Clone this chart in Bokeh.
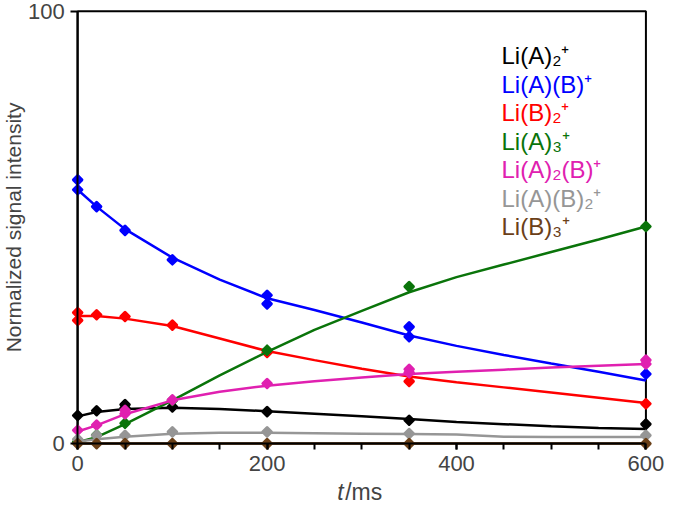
from bokeh.plotting import figure
from bokeh.models import Range1d, LinearAxis, FixedTicker, BoxAnnotation, Label, ColumnDataSource
from bokeh.embed import file_html
from bokeh.resources import INLINE

# ---------------- data ----------------
series_names = ["Li(A)\u2082\u207a", "Li(A)(B)\u207a", "Li(B)\u2082\u207a", "Li(A)\u2083\u207a",
                "Li(A)\u2082(B)\u207a", "Li(A)(B)\u2082\u207a", "Li(B)\u2083\u207a"]
series_colors = ["#000000", "#0000ff", "#ff0000", "#0a740a", "#e020b0", "#969696", "#6b4018"]

# measured points (time in ms, normalized intensity); replicates share a time
pts_t_black = [0, 20, 50, 50, 100, 200, 350, 600]
pts_v_black = [6.5, 7.6, 9.0, 8.2, 8.5, 7.4, 5.4, 4.5]
pts_t_blue = [0, 0, 20, 50, 100, 200, 200, 350, 350, 600]
pts_v_blue = [61.0, 58.7, 54.8, 49.3, 42.5, 34.3, 32.3, 27.0, 24.7, 16.1]
pts_t_red = [0, 0, 20, 50, 100, 200, 350, 600]
pts_v_red = [30.3, 28.5, 29.8, 29.4, 27.4, 21.1, 14.4, 9.2]
pts_t_green = [0, 20, 50, 100, 200, 350, 600]
pts_v_green = [0.4, 2.0, 4.7, 10.0, 21.6, 36.3, 50.2]
pts_t_magenta = [0, 20, 50, 50, 100, 200, 350, 350, 600, 600]
pts_v_magenta = [3.1, 4.3, 7.7, 6.9, 10.1, 13.9, 17.2, 16.4, 19.3, 18.4]
pts_t_gray = [0, 20, 50, 100, 200, 350, 600]
pts_v_gray = [1.0, 1.9, 1.9, 2.7, 2.7, 2.3, 1.9]
pts_t_brown = [0, 20, 50, 100, 200, 350, 600]
pts_v_brown = [0.0, 0.0, 0.0, 0.0, 0.0, 0.0, 0.0]

# fitted curves
fit_t = [0, 20, 50, 100, 150, 200, 250, 300, 350, 400, 450, 500, 550, 600]
fit_black = [6.3, 7.3, 8.0, 8.3, 8.0, 7.5, 6.9, 6.3, 5.7, 5.0, 4.5, 4.0, 3.6, 3.4]
fit_blue = [58.7, 54.8, 49.6, 43.0, 37.9, 33.6, 30.9, 28.0, 25.0, 22.6, 20.5, 18.5, 16.6, 14.6]
fit_red = [29.5, 29.5, 28.9, 27.2, 24.3, 21.4, 19.3, 17.3, 15.5, 14.2, 13.0, 11.8, 10.6, 9.4]
fit_green = [0.3, 1.5, 4.5, 10.0, 15.8, 21.2, 26.3, 30.7, 35.0, 38.5, 41.4, 44.3, 47.2, 50.2]
fit_magenta = [2.8, 4.2, 6.8, 10.0, 12.0, 13.4, 14.4, 15.3, 16.1, 16.6, 17.1, 17.6, 18.0, 18.4]
fit_gray = [0.5, 1.0, 1.6, 2.3, 2.5, 2.5, 2.4, 2.3, 2.2, 2.1, 1.6, 1.5, 1.5, 1.5]
fit_brown = [0.0] * len(fit_t)

x_major_ticks = [0, 200, 400, 600]
x_minor_ticks = [0, 50, 100, 150, 200, 250, 300, 350, 400, 450, 500, 550, 600]
y_ticks = [0, 100]

pts = [(pts_t_black, pts_v_black), (pts_t_blue, pts_v_blue), (pts_t_red, pts_v_red),
       (pts_t_green, pts_v_green), (pts_t_magenta, pts_v_magenta), (pts_t_gray, pts_v_gray),
       (pts_t_brown, pts_v_brown)]
fits = [fit_black, fit_blue, fit_red, fit_green, fit_magenta, fit_gray, fit_brown]

FONT = "Liberation Sans"

p = figure(width=669, height=508, output_backend="svg", toolbar_location=None,
           x_range=Range1d(-81.5, 624.9), y_range=Range1d(-15.01, 102.47),
           x_axis_location=None, y_axis_location=None,
           min_border=0, min_border_left=0, min_border_right=0,
           min_border_top=0, min_border_bottom=0)
p.outline_line_color = None
p.grid.visible = False
p.background_fill_color = "white"
p.border_fill_color = "white"

# frame (top/right border)
p.add_layout(BoxAnnotation(left=0, right=600, bottom=0, top=100, fill_alpha=0,
                           line_color="black", line_alpha=1.0, line_width=2, level="underlay"))

xaxis = LinearAxis(fixed_location=0, bounds=(0, 600),
                   ticker=FixedTicker(ticks=x_major_ticks, minor_ticks=x_minor_ticks),
                   axis_line_width=2, major_tick_in=0, major_tick_out=6,
                   minor_tick_in=0, minor_tick_out=6,
                   major_tick_line_width=2, minor_tick_line_width=2,
                   major_label_text_font=FONT, major_label_text_font_size="22px",
                   major_label_standoff=6)
p.add_layout(xaxis, "below")

yaxis = LinearAxis(fixed_location=0, bounds=(0, 100),
                   ticker=FixedTicker(ticks=y_ticks, minor_ticks=[]),
                   axis_line_width=2, major_tick_in=0, major_tick_out=7,
                   minor_tick_in=0, minor_tick_out=0,
                   major_tick_line_width=2,
                   major_label_text_font=FONT, major_label_text_font_size="22px",
                   major_label_standoff=6,
                   axis_label="Normalized signal intensity",
                   axis_label_text_font=FONT, axis_label_text_font_size="21px",
                   axis_label_text_font_style="normal", axis_label_standoff=0)
p.add_layout(yaxis, "left")

for (tt, vv), fv, col in zip(pts, fits, series_colors):
    p.line(x=fit_t, y=fv, line_color=col, line_width=2.5)
    src = ColumnDataSource(dict(t=tt, v=vv))
    p.scatter(x="t", y="v", source=src, marker="square", angle=0.785398, size=6,
              fill_color=col, line_color=col, line_width=3, line_join="round")

# legend as coloured text
leg_x = 447.5
leg_y0 = 89.7
leg_dy = 6.6
for i, (name, col) in enumerate(zip(series_names, series_colors)):
    p.add_layout(Label(x=leg_x, y=leg_y0 - i * leg_dy, text=name, text_color=col,
                       text_font=FONT, text_font_size="24px", text_baseline="alphabetic",
                       text_align="left"))

# x-axis label "t/ms"
p.add_layout(Label(x=274.2, y=-11.3, text="t",
                   text_font=FONT, text_font_style="italic", text_font_size="23px",
                   text_baseline="alphabetic"))
p.add_layout(Label(x=282.5, y=-11.3, text="/ms",
                   text_font=FONT, text_font_size="23px", text_baseline="alphabetic"))

open("out.html", "w").write(file_html(p, INLINE))
